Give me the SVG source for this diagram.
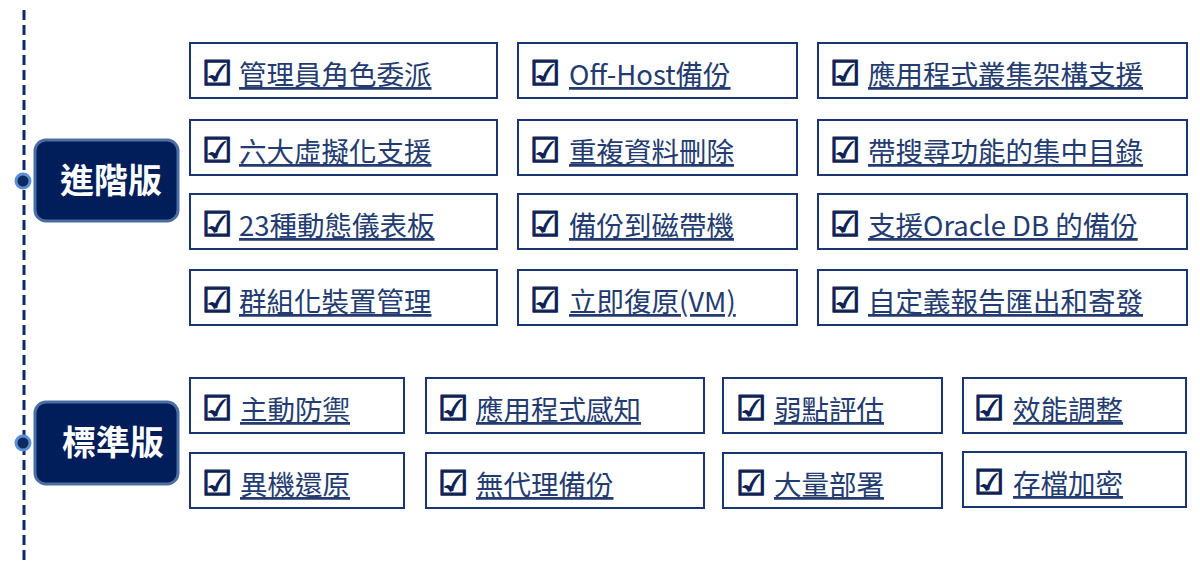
<svg xmlns="http://www.w3.org/2000/svg" width="1200" height="563" viewBox="0 0 1200 563">
<style>
.box{fill:#fff;stroke:#1b3574;stroke-width:2}
.t{font-family:"Noto Sans CJK TC","Noto Sans",sans-serif;font-size:27.5px;fill:#233b70;text-decoration:underline}
.cb{font-family:"DejaVu Sans",sans-serif;font-size:34px;fill:#0d1f55;stroke:#0d1f55;stroke-width:1.3}
.lab{fill:#011d5a;stroke:#4a6ea3;stroke-width:3}
.lt{font-family:"Noto Sans CJK TC",sans-serif;font-size:34px;font-weight:bold;fill:#fff}
.dot{fill:#0c2a5e;stroke:#5b8fd6;stroke-width:3}
</style>
<rect width="1200" height="563" fill="#fff"/>
<g id="connectors">
<line x1="24" y1="10" x2="24" y2="563" stroke="#0c2a66" stroke-width="3" stroke-dasharray="10 5"/>
</g>
<g id="label-advanced">
<rect class="lab" x="35" y="140" width="143" height="81" rx="11"/>
<text class="lt" x="60" y="193">進階版</text>
<circle class="dot" cx="23" cy="181" r="7"/>
</g>
<g id="label-standard">
<rect class="lab" x="35" y="402" width="143" height="82" rx="11"/>
<text class="lt" x="62" y="455">標準版</text>
<circle class="dot" cx="23" cy="443" r="7"/>
</g>
<g id="a1"><rect class="box" x="190" y="43" width="307" height="55"/><text class="cb" x="202" y="85">☑</text><text class="t" x="239" y="85">管理員角色委派</text></g>
<g id="a2"><rect class="box" x="518" y="43" width="279" height="55"/><text class="cb" x="530" y="85">☑</text><text class="t" x="569" y="85">Off-Host備份</text></g>
<g id="a3"><rect class="box" x="818" y="43" width="369" height="55"/><text class="cb" x="830" y="85">☑</text><text class="t" x="868" y="85">應用程式叢集架構支援</text></g>
<g id="a4"><rect class="box" x="190" y="120" width="307" height="55"/><text class="cb" x="202" y="162">☑</text><text class="t" x="239" y="162">六大虛擬化支援</text></g>
<g id="a5"><rect class="box" x="518" y="120" width="279" height="55"/><text class="cb" x="530" y="162">☑</text><text class="t" x="569" y="162">重複資料刪除</text></g>
<g id="a6"><rect class="box" x="818" y="120" width="369" height="55"/><text class="cb" x="830" y="162">☑</text><text class="t" x="868" y="162">帶搜尋功能的集中目錄</text></g>
<g id="a7"><rect class="box" x="190" y="194" width="307" height="55"/><text class="cb" x="202" y="236">☑</text><text class="t" x="239" y="236">23種動態儀表板</text></g>
<g id="a8"><rect class="box" x="518" y="194" width="279" height="55"/><text class="cb" x="530" y="236">☑</text><text class="t" x="569" y="236">備份到磁帶機</text></g>
<g id="a9"><rect class="box" x="818" y="194" width="369" height="55"/><text class="cb" x="830" y="236">☑</text><text class="t" x="868" y="236">支援Oracle DB 的備份</text></g>
<g id="a10"><rect class="box" x="190" y="270" width="307" height="55"/><text class="cb" x="202" y="312">☑</text><text class="t" x="239" y="312">群組化裝置管理</text></g>
<g id="a11"><rect class="box" x="518" y="270" width="279" height="55"/><text class="cb" x="530" y="312">☑</text><text class="t" x="569" y="312">立即復原(VM)</text></g>
<g id="a12"><rect class="box" x="818" y="270" width="369" height="55"/><text class="cb" x="830" y="312">☑</text><text class="t" x="868" y="312">自定義報告匯出和寄發</text></g>
<g id="s1"><rect class="box" x="190" y="378" width="214" height="55"/><text class="cb" x="202" y="420">☑</text><text class="t" x="240" y="420">主動防禦</text></g>
<g id="s2"><rect class="box" x="426" y="378" width="278" height="55"/><text class="cb" x="438" y="420">☑</text><text class="t" x="476" y="420">應用程式感知</text></g>
<g id="s3"><rect class="box" x="723" y="378" width="219" height="55"/><text class="cb" x="736" y="420">☑</text><text class="t" x="774" y="420">弱點評估</text></g>
<g id="s4"><rect class="box" x="963" y="378" width="223" height="55"/><text class="cb" x="974" y="420">☑</text><text class="t" x="1013" y="420">效能調整</text></g>
<g id="s5"><rect class="box" x="190" y="453" width="214" height="55"/><text class="cb" x="202" y="495">☑</text><text class="t" x="240" y="495">異機還原</text></g>
<g id="s6"><rect class="box" x="426" y="453" width="278" height="55"/><text class="cb" x="438" y="495">☑</text><text class="t" x="476" y="495">無代理備份</text></g>
<g id="s7"><rect class="box" x="723" y="453" width="219" height="55"/><text class="cb" x="736" y="495">☑</text><text class="t" x="774" y="495">大量部署</text></g>
<g id="s8"><rect class="box" x="963" y="452" width="223" height="55"/><text class="cb" x="974" y="494">☑</text><text class="t" x="1013" y="494">存檔加密</text></g>
</svg>
